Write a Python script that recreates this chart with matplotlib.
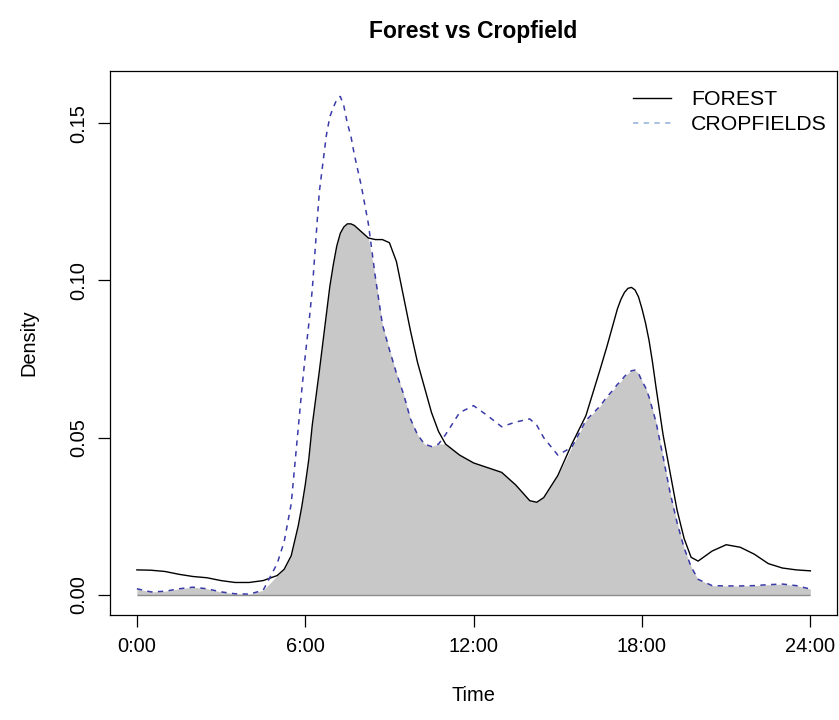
import numpy as np
import matplotlib
matplotlib.use("Agg")
import matplotlib.pyplot as plt
from matplotlib.lines import Line2D

plt.rcParams['font.family'] = ['Liberation Sans', 'DejaVu Sans']
plt.rcParams['font.size'] = 14.4

# hour of day, common grid for both density curves
hours = [0, 0.5, 1, 1.5, 2, 2.5, 3, 3.5, 4, 4.5, 5, 5.25, 5.5, 5.75, 5.875,
         6, 6.125, 6.25, 6.5, 6.75, 6.875, 7, 7.125, 7.25, 7.375, 7.5, 7.625,
         7.75, 8, 8.25, 8.5, 8.75,
         9, 9.25, 9.5, 9.75, 10, 10.25, 10.5, 10.75, 11, 11.5, 12, 12.5,
         13, 13.5, 14, 14.25, 14.5, 15, 15.5, 16, 16.5, 16.75, 17, 17.125,
         17.25, 17.375, 17.5, 17.625, 17.75, 17.875, 18, 18.125, 18.25,
         18.375, 18.5, 18.75, 19, 19.25, 19.5, 19.75, 20, 20.5,
         21, 21.5, 22, 22.5, 23, 23.5, 24]

forest = [0.0080, 0.0079, 0.0075, 0.0066, 0.0059, 0.0055, 0.0046, 0.0040,
          0.0040, 0.0046, 0.0062, 0.0082, 0.0125, 0.0220, 0.0280,
          0.0350, 0.0430, 0.0540, 0.0710, 0.0890, 0.0980, 0.1050, 0.1110,
          0.1150, 0.1170, 0.1180, 0.1180,
          0.1175, 0.1155, 0.1135, 0.1130, 0.1130,
          0.1120, 0.1060, 0.0950, 0.0840, 0.0740, 0.0660, 0.0580, 0.0520,
          0.0480, 0.0445, 0.0420, 0.0405, 0.0390, 0.0350, 0.0300, 0.0295,
          0.0310, 0.0380, 0.0480, 0.0570, 0.0715, 0.0790, 0.0870, 0.0910,
          0.0940, 0.0962, 0.0975, 0.0978, 0.0970, 0.0948, 0.0910, 0.0865,
          0.0810, 0.0740, 0.0660, 0.0510, 0.0390, 0.0270, 0.0180, 0.0120,
          0.0108, 0.0140, 0.0160, 0.0152, 0.0130, 0.0100, 0.0086, 0.0080,
          0.0077]

cropfields = [0.0020, 0.0010, 0.0012, 0.0020, 0.0025, 0.0020, 0.0010, 0.0004,
              0.0003, 0.0015, 0.0100, 0.0170, 0.0290, 0.0530, 0.0650,
              0.0760, 0.0860, 0.0970, 0.1280, 0.1460, 0.1520, 0.1550, 0.1575,
              0.1585, 0.1555, 0.1500, 0.1460,
              0.1400, 0.1300, 0.1180, 0.1010, 0.0860,
              0.0780, 0.0705, 0.0640, 0.0560, 0.0510, 0.0480, 0.0472, 0.0480,
              0.0510, 0.0580, 0.0602, 0.0570, 0.0535, 0.0550, 0.0560, 0.0540,
              0.0500, 0.0445, 0.0470, 0.0555, 0.0600, 0.0630, 0.0655, 0.0670,
              0.0680, 0.0695, 0.0705, 0.0713, 0.0715, 0.0705, 0.0680, 0.0660,
              0.0630, 0.0590, 0.0550, 0.0440, 0.0326, 0.0230, 0.0150, 0.0090,
              0.0050, 0.0030, 0.0029, 0.0029, 0.0030, 0.0033, 0.0035, 0.0030,
              0.0019]

xticks = [0, 6, 12, 18, 24]
xticklabels = ["0:00", "6:00", "12:00", "18:00", "24:00"]
yticks = [0.00, 0.05, 0.10, 0.15]

h = np.array(hours)
f = np.array(forest)
c = np.array(cropfields)

fig = plt.figure(figsize=(8.39, 7.2), dpi=100)
ax = fig.add_axes([0.131, 0.146, 0.867, 0.755])

# overlap area
ax.fill_between(h, 0, np.minimum(f, c), color="#c8c8c8", lw=0)
ax.hlines(0, h[0], h[-1], color="#8c8c8c", lw=1.0)
ax.plot(h, f, color="black", lw=1.0)
ax.plot(h, c, color="#3a3aa8", lw=1.1, dashes=(3.5, 3.5))

ax.set_xlim(-0.96, 24.96)
ax.set_ylim(-0.0063, 0.1665)
ax.set_xticks(xticks)
ax.set_xticklabels(xticklabels)
ax.set_yticks(yticks)
ax.set_yticklabels([f"{v:.2f}" for v in yticks], rotation=90, va="center")
ax.tick_params(direction="out", length=8.6, width=0.9, pad=7)
for s in ax.spines.values():
    s.set_linewidth(0.9)

ax.set_xlabel("Time", labelpad=22)
ax.set_ylabel("Density", labelpad=22)
fig.suptitle("Forest vs Cropfield", x=0.5645, y=0.972, fontsize=16.5, fontweight="bold")

handles = [Line2D([], [], color="black", lw=1.0),
           Line2D([], [], color="#8fb0d8", lw=1.1, dashes=(3.5, 3.5))]
ax.legend(handles, ["FOREST", "CROPFIELDS"], loc="upper right", frameon=False,
          bbox_to_anchor=(1.0, 0.985), borderpad=0, fontsize=15.3,
          handlelength=1.8, handletextpad=0.95, labelspacing=0.3)

fig.savefig("out.png", dpi=100)
